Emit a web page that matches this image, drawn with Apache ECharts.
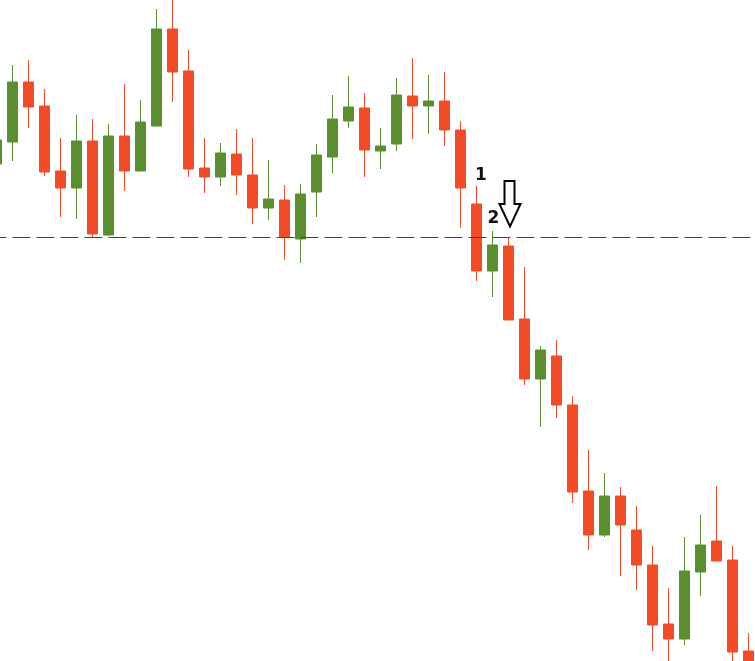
<!DOCTYPE html>
<html>
<head>
<meta charset="utf-8">
<script src="https://cdn.jsdelivr.net/npm/echarts@6/dist/echarts.min.js"></script>
<style>
html,body{margin:0;padding:0;background:#fff;}
#chart{width:755px;height:661px;}
</style>
</head>
<body>
<div id="chart"></div>
<script>
// Bar index labels (no visible axis)
const categories = [];
for (let i = 1; i <= 48; i++) categories.push('Bar ' + i);

const opens  = [1.1497,1.1519,1.1579,1.1555,1.1490,1.1473,1.1520,1.1426,1.1525,1.1490,
                1.1535,1.1632,1.1590,1.1493,1.1484,1.1507,1.1486,1.1453,1.1461,1.1422,
                1.1469,1.1504,1.1540,1.1553,1.1510,1.1517,1.1565,1.1555,1.1560,1.1531,
                1.1457,1.1390,1.1415,1.1342,1.1282,1.1305,1.1256,1.1170,1.1126,1.1165,
                1.1131,1.1096,1.1037,1.1022,1.1089,1.1120,1.1101,1.1010];
const closes = [1.1521,1.1579,1.1554,1.1489,1.1473,1.1520,1.1427,1.1525,1.1490,1.1539,
                1.1632,1.1589,1.1492,1.1484,1.1508,1.1486,1.1453,1.1462,1.1424,1.1467,
                1.1506,1.1542,1.1554,1.1511,1.1515,1.1566,1.1555,1.1560,1.1531,1.1473,
                1.1390,1.1416,1.1341,1.1282,1.1311,1.1256,1.1169,1.1126,1.1165,1.1136,
                1.1096,1.1036,1.1022,1.1090,1.1116,1.1100,1.1009,1.0989];
const lows   = [1.1489,1.1500,1.1533,1.1485,1.1444,1.1442,1.1424,1.1425,1.1470,1.1490,
                1.1535,1.1559,1.1484,1.1468,1.1475,1.1466,1.1437,1.1441,1.1401,1.1398,
                1.1444,1.1488,1.1533,1.1484,1.1492,1.1510,1.1522,1.1527,1.1515,1.1433,
                1.1380,1.1364,1.1341,1.1276,1.1234,1.1243,1.1158,1.1111,1.1124,1.1085,
                1.1071,1.1010,1.0995,1.1016,1.1065,1.1100,1.0995,1.0981];
const highs  = [1.1529,1.1596,1.1601,1.1572,1.1523,1.1546,1.1542,1.1537,1.1577,1.1561,
                1.1652,1.1661,1.1611,1.1523,1.1518,1.1532,1.1523,1.1501,1.1476,1.1477,
                1.1517,1.1566,1.1585,1.1568,1.1533,1.1583,1.1603,1.1586,1.1589,1.1540,
                1.1475,1.1430,1.1423,1.1394,1.1315,1.1321,1.1265,1.1211,1.1188,1.1174,
                1.1155,1.1115,1.1073,1.1124,1.1146,1.1175,1.1115,1.1028];

const levelLine = 1.1424;
const priceMin = 1.1000;
const priceMax = 1.1661;

const annotations = [
  { text: '1', bar: 30 },
  { text: '2', bar: 31 }
];
const arrowBar = 32;

const candleData = opens.map((o, i) => [o, closes[i], lows[i], highs[i]]);

const chart = echarts.init(document.getElementById('chart'), null, { renderer: 'canvas' });

const UP = '#5a8f30';
const DOWN = '#f24c27';

chart.setOption({
  animation: false,
  backgroundColor: '#ffffff',
  grid: { left: -11.5, width: 768, top: 0, height: 661, containLabel: false, outerBoundsMode: 'none' },
  xAxis: {
    type: 'category',
    data: categories,
    boundaryGap: true,
    show: false
  },
  yAxis: {
    type: 'value',
    min: priceMin,
    max: priceMax,
    show: false,
    splitLine: { show: false }
  },
  series: [{
    type: 'candlestick',
    data: candleData,
    barWidth: 10,
    clip: true,
    itemStyle: {
      color: UP,
      color0: DOWN,
      borderColor: UP,
      borderColor0: DOWN,
      borderWidth: 1
    },
    markLine: {
      silent: true,
      precision: 4,
      symbol: ['none', 'none'],
      label: { show: false },
      lineStyle: { color: '#3b4848', width: 1, type: [18, 6] },
      data: [{ yAxis: levelLine }]
    }
  }]
});

// annotation graphics anchored to bars' highs
const elements = [];
const labelOffsets = { 30: [4.5, -10], 31: [1, -12] };
annotations.forEach(a => {
  const p = chart.convertToPixel({ seriesIndex: 0 }, [a.bar, highs[a.bar]]);
  const off = labelOffsets[a.bar];
  elements.push({
    type: 'text',
    x: p[0] + off[0],
    y: p[1] + off[1],
    style: {
      text: a.text,
      fill: '#111111',
      font: 'bold 17px "DejaVu Sans"',
      align: 'center',
      verticalAlign: 'middle'
    },
    z: 10
  });
});
const ap = chart.convertToPixel({ seriesIndex: 0 }, [arrowBar, highs[arrowBar]]);
const ax = ap[0], ay = ap[1];
elements.push({
  type: 'polygon',
  shape: {
    points: [
      [ax - 4, ay - 57], [ax + 6, ay - 57], [ax + 6, ay - 34],
      [ax + 12, ay - 34], [ax + 1.5, ay - 11.5], [ax - 9, ay - 34], [ax - 4, ay - 34]
    ]
  },
  style: { fill: '#ffffff', stroke: '#000000', lineWidth: 2, lineJoin: 'miter' },
  z: 10
});
chart.setOption({ graphic: { elements: elements } });
</script>
</body>
</html>
